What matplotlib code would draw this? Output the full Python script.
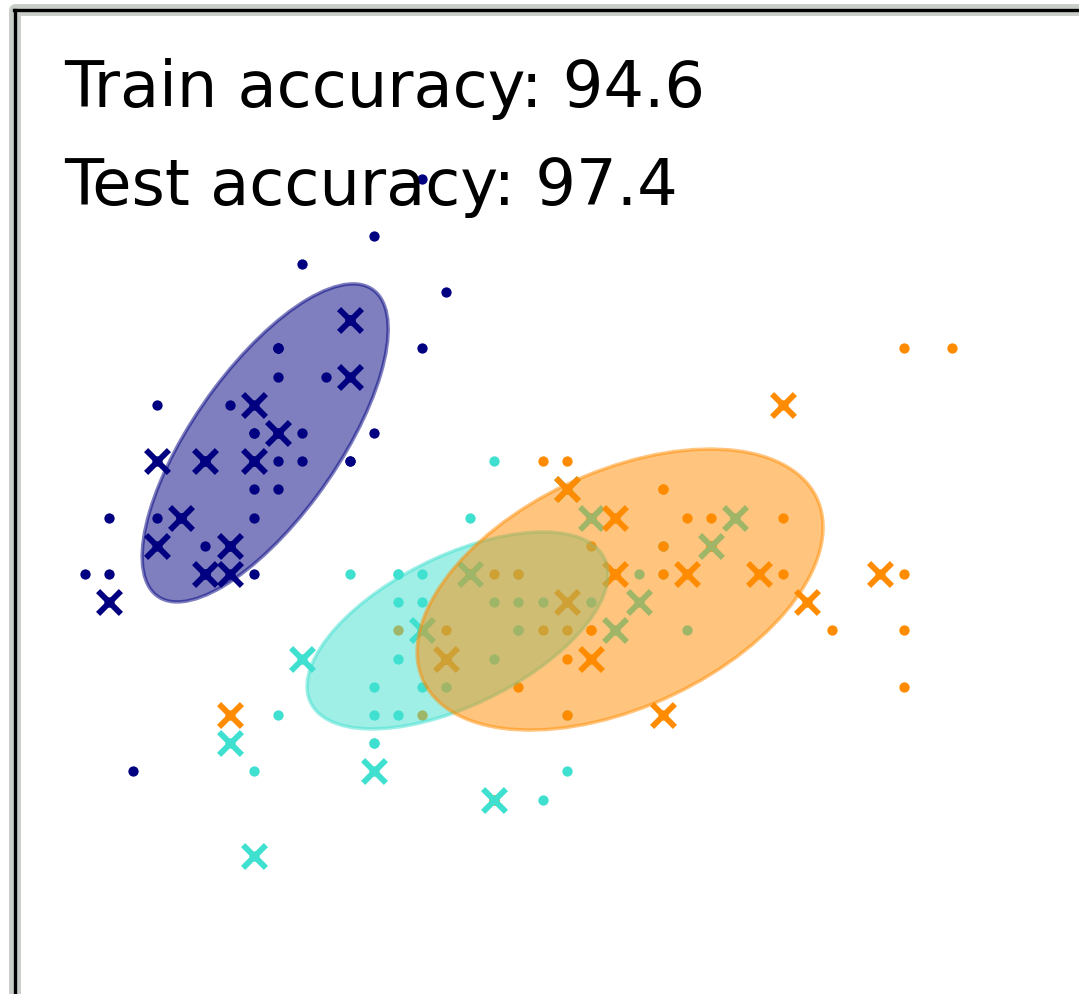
import numpy as np
import matplotlib
matplotlib.use("Agg")
import matplotlib.pyplot as plt
from matplotlib.patches import Ellipse
from matplotlib.lines import Line2D

# Iris sepal measurements (length, width) per species
setosa_len = [5.1, 4.9, 4.7, 4.6, 5.0, 5.4, 4.6, 5.0, 4.4, 4.9, 5.4, 4.8, 4.8, 4.3, 5.8, 5.7, 5.4,
              5.1, 5.7, 5.1, 5.4, 5.1, 4.6, 5.1, 4.8, 5.0, 5.0, 5.2, 5.2, 4.7, 4.8, 5.4, 5.2, 5.5,
              4.9, 5.0, 5.5, 4.9, 4.4, 5.1, 5.0, 4.5, 4.4, 5.0, 5.1, 4.8, 5.1, 4.6, 5.3, 5.0]
setosa_wid = [3.5, 3.0, 3.2, 3.1, 3.6, 3.9, 3.4, 3.4, 2.9, 3.1, 3.7, 3.4, 3.0, 3.0, 4.0, 4.4, 3.9,
              3.5, 3.8, 3.8, 3.4, 3.7, 3.6, 3.3, 3.4, 3.0, 3.4, 3.5, 3.4, 3.2, 3.1, 3.4, 4.1, 4.2,
              3.1, 3.2, 3.5, 3.6, 3.0, 3.4, 3.5, 2.3, 3.2, 3.5, 3.8, 3.0, 3.8, 3.2, 3.7, 3.3]
versicolor_len = [7.0, 6.4, 6.9, 5.5, 6.5, 5.7, 6.3, 4.9, 6.6, 5.2, 5.0, 5.9, 6.0, 6.1, 5.6, 6.7,
                  5.6, 5.8, 6.2, 5.6, 5.9, 6.1, 6.3, 6.1, 6.4, 6.6, 6.8, 6.7, 6.0, 5.7, 5.5, 5.5,
                  5.8, 6.0, 5.4, 6.0, 6.7, 6.3, 5.6, 5.5, 5.5, 6.1, 5.8, 5.0, 5.6, 5.7, 5.7, 6.2,
                  5.1, 5.7]
versicolor_wid = [3.2, 3.2, 3.1, 2.3, 2.8, 2.8, 3.3, 2.4, 2.9, 2.7, 2.0, 3.0, 2.2, 2.9, 2.9, 3.1,
                  3.0, 2.7, 2.2, 2.5, 3.2, 2.8, 2.5, 2.8, 2.9, 3.0, 2.8, 3.0, 2.9, 2.6, 2.4, 2.4,
                  2.7, 2.7, 3.0, 3.4, 3.1, 2.3, 3.0, 2.5, 2.6, 3.0, 2.6, 2.3, 2.7, 3.0, 2.9, 2.9,
                  2.5, 2.8]
virginica_len = [6.3, 5.8, 7.1, 6.3, 6.5, 7.6, 4.9, 7.3, 6.7, 7.2, 6.5, 6.4, 6.8, 5.7, 5.8, 6.4,
                 6.5, 7.7, 7.7, 6.0, 6.9, 5.6, 7.7, 6.3, 6.7, 7.2, 6.2, 6.1, 6.4, 7.2, 7.4, 7.9,
                 6.4, 6.3, 6.1, 7.7, 6.3, 6.4, 6.0, 6.9, 6.7, 6.9, 5.8, 6.8, 6.7, 6.7, 6.3, 6.5,
                 6.2, 5.9]
virginica_wid = [3.3, 2.7, 3.0, 2.9, 3.0, 3.0, 2.5, 2.9, 2.5, 3.6, 3.2, 2.7, 3.0, 2.5, 2.8, 3.2,
                 3.0, 3.8, 2.6, 2.2, 3.2, 2.8, 2.8, 2.7, 3.3, 3.2, 2.8, 3.0, 2.8, 3.0, 2.8, 3.8,
                 2.8, 2.8, 2.6, 3.0, 3.4, 3.1, 3.0, 3.1, 3.1, 3.1, 2.7, 3.2, 3.3, 3.0, 2.5, 3.0,
                 3.4, 3.0]

# The first 13 samples of each species are the held-out test set
n_test = 13

# Fitted Gaussian components (means and full covariances)
gmm_means = [[5.048, 3.465], [5.847, 2.800], [6.522, 2.945]]
gmm_covs = [[[0.1305, 0.103], [0.103, 0.159]],
            [[0.1953, 0.062], [0.062, 0.061]],
            [[0.3553, 0.0931], [0.0931, 0.1241]]]

train_acc = 94.6
test_acc = 97.4

colors = ["navy", "turquoise", "darkorange"]
species = [(setosa_len, setosa_wid), (versicolor_len, versicolor_wid),
           (virginica_len, virginica_wid)]

W, H = 1079, 995
fig = plt.figure(figsize=(W / 100, H / 100), dpi=100)
ax = fig.add_axes([14.5 / W, -2.5 / H, 1085.5 / W, 986.5 / H])
ax.set_xlim(4.007, 8.515)
ax.set_ylim(1.502, 5.0)
ax.set_xticks([])
ax.set_yticks([])

# Covariance ellipses
for mean, cov, color in zip(gmm_means, gmm_covs, colors):
    v, w = np.linalg.eigh(np.array(cov))
    angle = np.degrees(np.arctan2(w[1, 0], w[0, 0]))
    v = 2.0 * np.sqrt(2.0) * np.sqrt(v)
    ell = Ellipse(mean, v[0], v[1], angle=angle, facecolor=color, edgecolor=color,
                  linewidth=2.5, alpha=0.5, zorder=2)
    ax.add_patch(ell)

# All samples as small dots
for (xl, yl), color in zip(species, colors):
    ax.scatter(xl, yl, s=55, color=color, linewidths=0, zorder=1)

# Test samples as crosses
for (xl, yl), color in zip(species, colors):
    ax.scatter(xl[:n_test], yl[:n_test], marker="x", s=270, linewidths=4.2,
               color=color, zorder=1)

ax.text(0.0455, 0.903, "Train accuracy: %.1f" % train_acc, transform=ax.transAxes,
        fontsize=46, color="black")
ax.text(0.0455, 0.8033, "Test accuracy: %.1f" % test_acc, transform=ax.transAxes,
        fontsize=46, color="black")

# Frame: soft grey halo beneath a black border
for sp in ax.spines.values():
    sp.set_linewidth(2.4)
    sp.set_color("black")
    sp.set_zorder(5)
halo_kw = dict(transform=ax.transAxes, color="#c8cdc8", linewidth=8.5,
               solid_capstyle="projecting", clip_on=False, zorder=4)
ax.add_line(Line2D([0, 0, 1, 1, 0], [0, 1, 1, 0, 0], **halo_kw))

fig.savefig("out.png", dpi=100)
